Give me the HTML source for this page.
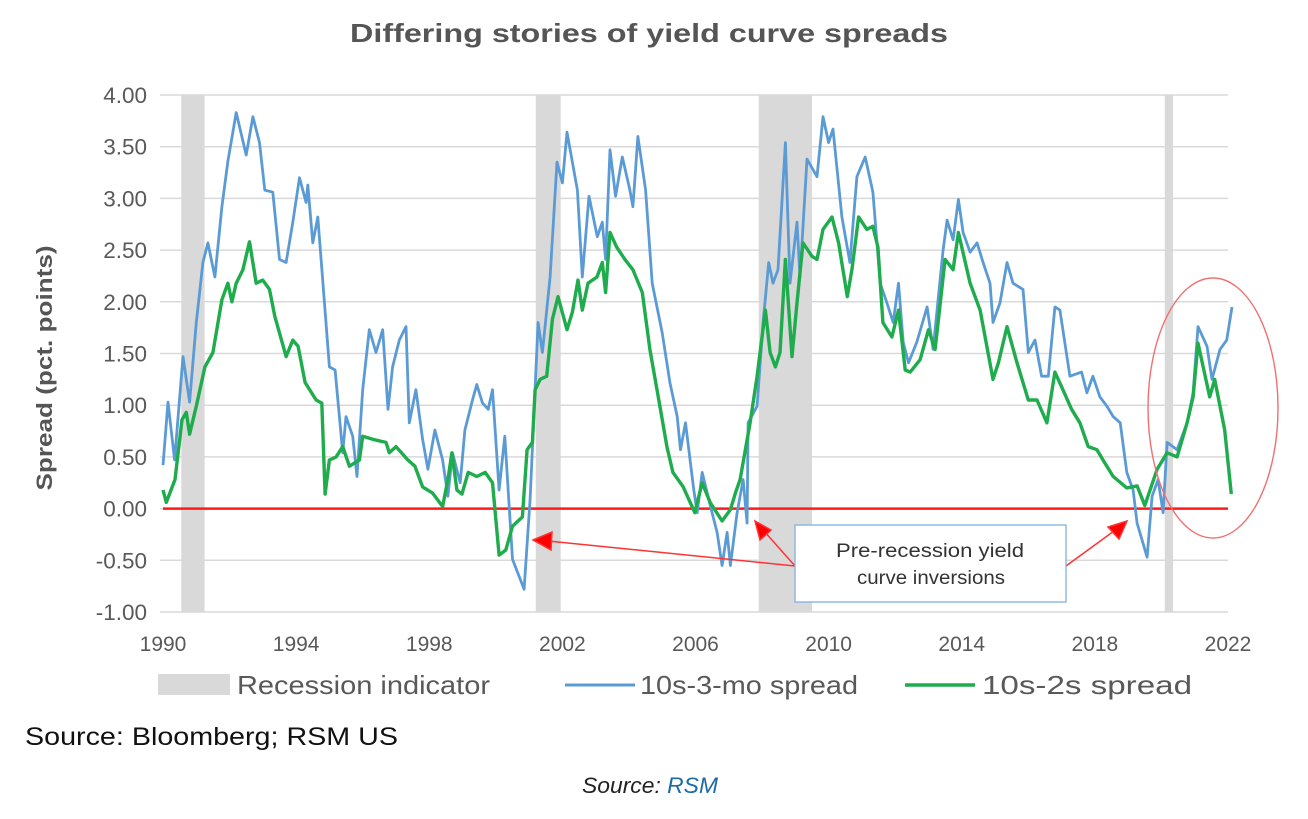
<!DOCTYPE html>
<html><head><meta charset="utf-8">
<style>
html,body{margin:0;padding:0;background:#fff;}
body{width:1308px;height:814px;overflow:hidden;font-family:"Liberation Sans",Arial,sans-serif;}
</style></head>
<body>
<svg id="chart" width="1308" height="814" xmlns="http://www.w3.org/2000/svg" font-family="Liberation Sans, Arial, sans-serif">
<text x="350" y="42" font-size="26" font-weight="bold" fill="#555" textLength="598" lengthAdjust="spacingAndGlyphs">Differing stories of yield curve spreads</text>
<text transform="translate(52,368) rotate(-90)" text-anchor="middle" font-size="22" font-weight="bold" fill="#555" textLength="245" lengthAdjust="spacingAndGlyphs">Spread (pct. points)</text>
<g id="grid"></g><g id="rec"></g><g id="yt"></g><g id="xt"></g>
<line id="zero" stroke="#ff1a1a" stroke-width="2.5"/>
<path id="l3" fill="none" stroke="#5b9bd5" stroke-width="2.8" stroke-linejoin="round"/>
<path id="l2" fill="none" stroke="#1fac4d" stroke-width="3.4" stroke-linejoin="round"/>
<g stroke="#f33" stroke-width="1.5" fill="#f00">
<line x1="795" y1="566" x2="548" y2="541"/><polygon points="533,540 552,532 551,550"/>
<line x1="795" y1="566" x2="764" y2="531"/><polygon points="755,521 771,530 760,540"/>
<line x1="1066" y1="566" x2="1114" y2="531"/><polygon points="1127,521 1119,539 1108,527"/>
</g>
<rect x="795" y="525" width="271" height="77" fill="#fff" stroke="#7fb0de" stroke-width="1.3"/>
<text x="836" y="557" font-size="19" fill="#333" textLength="188" lengthAdjust="spacingAndGlyphs">Pre-recession yield</text>
<text x="857" y="584" font-size="19" fill="#333" textLength="148" lengthAdjust="spacingAndGlyphs">curve inversions</text>
<ellipse cx="1213" cy="408" rx="65" ry="130" fill="none" stroke="#f07070" stroke-width="1.4"/>
<g font-size="26" fill="#595959">
<rect x="158" y="674" width="72" height="21" fill="#d9d9d9"/>
<text x="237" y="694" textLength="253" lengthAdjust="spacingAndGlyphs">Recession indicator</text>
<line x1="565" y1="685" x2="635" y2="685" stroke="#5b9bd5" stroke-width="3"/>
<text x="640" y="694" textLength="218" lengthAdjust="spacingAndGlyphs">10s-3-mo spread</text>
<line x1="905" y1="685" x2="975" y2="685" stroke="#1fac4d" stroke-width="3.5"/>
<text x="982" y="694" textLength="210" lengthAdjust="spacingAndGlyphs">10s-2s spread</text>
</g>
<text x="25" y="745" font-size="25" fill="#111" textLength="373" lengthAdjust="spacingAndGlyphs">Source: Bloomberg; RSM US</text>
<text x="582" y="793" font-size="22" font-style="italic" fill="#222" textLength="136" lengthAdjust="spacingAndGlyphs">Source: <tspan fill="#1a6aa8">RSM</tspan></text>
</svg>
<script>
const yTicks=[4,3.5,3,2.5,2,1.5,1,0.5,0,-0.5,-1];
const xTicks=[1990,1994,1998,2002,2006,2010,2014,2018,2022];
const recStart=[1990.55,2001.2,2007.9,2020.1];
const recEnd=[1991.25,2001.95,2009.5,2020.35];
const years3m=[1990,1990.15,1990.35,1990.6,1990.8,1991,1991.2,1991.35,1991.56,1991.77,1991.95,1992.2,1992.5,1992.7,1992.9,1993.06,1993.3,1993.5,1993.7,1993.9,1994.1,1994.3,1994.35,1994.5,1994.65,1994.8,1995,1995.17,1995.4,1995.5,1995.7,1995.83,1996,1996.2,1996.4,1996.6,1996.76,1996.9,1997.1,1997.3,1997.4,1997.6,1997.8,1997.96,1998.17,1998.4,1998.56,1998.7,1998.93,1999.07,1999.3,1999.43,1999.6,1999.77,1999.9,2000.1,2000.27,2000.5,2000.85,2001.03,2001.27,2001.4,2001.63,2001.84,2002,2002.14,2002.3,2002.45,2002.6,2002.8,2003.05,2003.2,2003.3,2003.43,2003.6,2003.8,2004.03,2004.12,2004.27,2004.5,2004.7,2005,2005.23,2005.45,2005.55,2005.7,2005.95,2006.05,2006.2,2006.45,2006.65,2006.8,2006.95,2007.05,2007.25,2007.43,2007.55,2007.58,2007.85,2008.03,2008.2,2008.33,2008.48,2008.7,2008.84,2009.05,2009.14,2009.35,2009.65,2009.83,2010,2010.13,2010.4,2010.64,2010.85,2011.1,2011.33,2011.55,2011.75,2011.94,2012.1,2012.24,2012.4,2012.65,2012.96,2013.14,2013.44,2013.56,2013.74,2013.9,2014.04,2014.25,2014.46,2014.64,2014.85,2014.94,2015.15,2015.36,2015.54,2015.84,2016,2016.2,2016.4,2016.6,2016.8,2016.95,2017.25,2017.6,2017.76,2017.94,2018.15,2018.36,2018.55,2018.76,2018.96,2019.15,2019.27,2019.57,2019.72,2019.9,2020.05,2020.17,2020.47,2020.77,2020.95,2021.1,2021.37,2021.52,2021.76,2021.96,2022.12];
const spread3m=[0.42,1.03,0.47,1.47,1.03,1.8,2.38,2.57,2.24,2.92,3.36,3.83,3.42,3.79,3.54,3.08,3.06,2.41,2.38,2.77,3.2,2.96,3.13,2.57,2.82,2.21,1.37,1.34,0.54,0.89,0.7,0.31,1.15,1.73,1.51,1.73,0.96,1.37,1.63,1.76,0.83,1.15,0.67,0.38,0.76,0.47,0.12,0.54,0.25,0.76,1.05,1.2,1.02,0.96,1.15,0.18,0.7,-0.49,-0.78,0.09,1.8,1.51,2.24,3.35,3.15,3.64,3.35,3.08,2.24,3.02,2.63,2.77,2.41,3.47,3.02,3.4,3.08,2.92,3.6,3.08,2.18,1.7,1.22,0.89,0.57,0.83,0.18,-0.04,0.35,0.02,-0.23,-0.55,-0.23,-0.55,-0.04,0.28,-0.14,0.83,0.99,1.8,2.38,2.18,2.31,3.54,2.18,2.77,2.24,3.38,3.21,3.79,3.54,3.67,2.82,2.38,3.21,3.4,3.06,2.18,1.99,1.8,2.18,1.61,1.41,1.61,1.95,1.54,2.5,2.79,2.6,2.99,2.67,2.48,2.57,2.38,2.18,1.8,1.99,2.38,2.18,2.12,1.51,1.63,1.28,1.28,1.95,1.92,1.28,1.32,1.12,1.28,1.08,0.99,0.89,0.83,0.35,0.18,-0.14,-0.47,0.12,0.28,-0.04,0.64,0.57,0.83,1.12,1.76,1.57,1.25,1.54,1.63,1.95];
const years2s=[1990,1990.1,1990.36,1990.57,1990.7,1990.8,1991,1991.26,1991.5,1991.77,1991.95,1992.07,1992.2,1992.4,1992.6,1992.8,1993,1993.2,1993.36,1993.7,1993.9,1994.06,1994.27,1994.6,1994.77,1994.87,1995,1995.2,1995.4,1995.6,1995.9,1996,1996.3,1996.7,1996.8,1997,1997.36,1997.57,1997.8,1998.1,1998.4,1998.56,1998.68,1998.83,1998.98,1999.17,1999.43,1999.68,1999.9,2000.1,2000.3,2000.5,2000.8,2000.94,2001.1,2001.18,2001.33,2001.53,2001.7,2001.87,2002.14,2002.3,2002.47,2002.6,2002.77,2003.04,2003.2,2003.3,2003.43,2003.63,2003.88,2004.12,2004.4,2004.63,2004.93,2005.14,2005.32,2005.63,2005.98,2006.2,2006.44,2006.8,2007.05,2007.2,2007.34,2007.64,2007.85,2008.1,2008.24,2008.4,2008.54,2008.7,2008.9,2009.05,2009.23,2009.5,2009.65,2009.83,2010.1,2010.3,2010.56,2010.7,2010.9,2011.15,2011.33,2011.48,2011.63,2011.9,2012.1,2012.3,2012.45,2012.75,2013,2013.2,2013.5,2013.74,2013.9,2014.25,2014.55,2014.94,2015.1,2015.36,2015.66,2016,2016.26,2016.56,2016.8,2017.04,2017.3,2017.55,2017.8,2018.06,2018.3,2018.55,2018.96,2019.27,2019.5,2019.87,2020.17,2020.47,2020.77,2020.95,2021.1,2021.45,2021.6,2021.9,2022.1];
const spread2s=[0.18,0.06,0.28,0.86,0.93,0.72,0.99,1.37,1.51,2.02,2.18,2,2.18,2.31,2.58,2.18,2.21,2.12,1.86,1.47,1.63,1.57,1.22,1.05,1.02,0.14,0.47,0.5,0.6,0.41,0.47,0.7,0.67,0.64,0.54,0.6,0.47,0.41,0.21,0.15,0.02,0.28,0.54,0.18,0.14,0.35,0.31,0.35,0.25,-0.45,-0.4,-0.17,-0.08,0.57,0.64,1.15,1.25,1.28,1.83,2.05,1.73,1.9,2.21,1.92,2.18,2.24,2.38,2.09,2.67,2.53,2.41,2.31,2.09,1.54,0.99,0.6,0.35,0.21,-0.04,0.25,0.06,-0.12,-0.01,0.15,0.28,0.83,1.28,1.92,1.51,1.37,1.51,2.41,1.47,1.99,2.57,2.44,2.41,2.7,2.82,2.57,2.05,2.31,2.82,2.7,2.73,2.53,1.8,1.66,1.92,1.34,1.32,1.44,1.73,1.54,2.41,2.31,2.67,2.18,1.92,1.25,1.41,1.76,1.41,1.05,1.05,0.83,1.32,1.15,0.96,0.83,0.6,0.57,0.44,0.31,0.2,0.22,0.03,0.38,0.54,0.5,0.83,1.08,1.6,1.08,1.25,0.76,0.14];
const X0=163,X1=1228,Y0=95,Y1=612;
function xs(yr){return X0+(yr-1990)/32*(X1-X0);}
function ys(v){return Y0+(4-v)/5*(Y1-Y0);}
const NS="http://www.w3.org/2000/svg";
function mk(tag,attrs,parent){const e=document.createElementNS(NS,tag);for(const k in attrs)e.setAttribute(k,attrs[k]);parent.appendChild(e);return e;}
const grid=document.getElementById('grid'),yt=document.getElementById('yt'),xt=document.getElementById('xt'),rec=document.getElementById('rec');
yTicks.forEach(v=>{
 const l=mk('line',{x1:X0-3,x2:X1,y1:ys(v),y2:ys(v),stroke:'#d9d9d9','stroke-width':1.5},grid);
 
 
 const t=mk('text',{x:147,y:ys(v)+8,'text-anchor':'end','font-size':22.5,fill:'#595959'},yt);
 t.textContent=v.toFixed(2);
 
 
});
xTicks.forEach(v=>{
 const t=mk('text',{x:xs(v),y:651,'text-anchor':'middle','font-size':21,fill:'#595959'},xt);
 t.textContent=v;
 
 
});
recStart.forEach((s,i)=>{
 const r=mk('rect',{x:xs(s),y:Y0,width:xs(recEnd[i])-xs(s),height:Y1-Y0,fill:'#d9d9d9'},rec);
 
 
});
const z=document.getElementById('zero');
z.setAttribute('x1',X0);z.setAttribute('x2',X1);z.setAttribute('y1',ys(0));z.setAttribute('y2',ys(0));
function path(xa,va){return xa.map((x,i)=>(i?'L':'M')+xs(x).toFixed(1)+','+ys(va[i]).toFixed(1)).join('');}
document.getElementById('l3').setAttribute('d',path(years3m,spread3m));
document.getElementById('l2').setAttribute('d',path(years2s,spread2s));
</script>
</body></html>
